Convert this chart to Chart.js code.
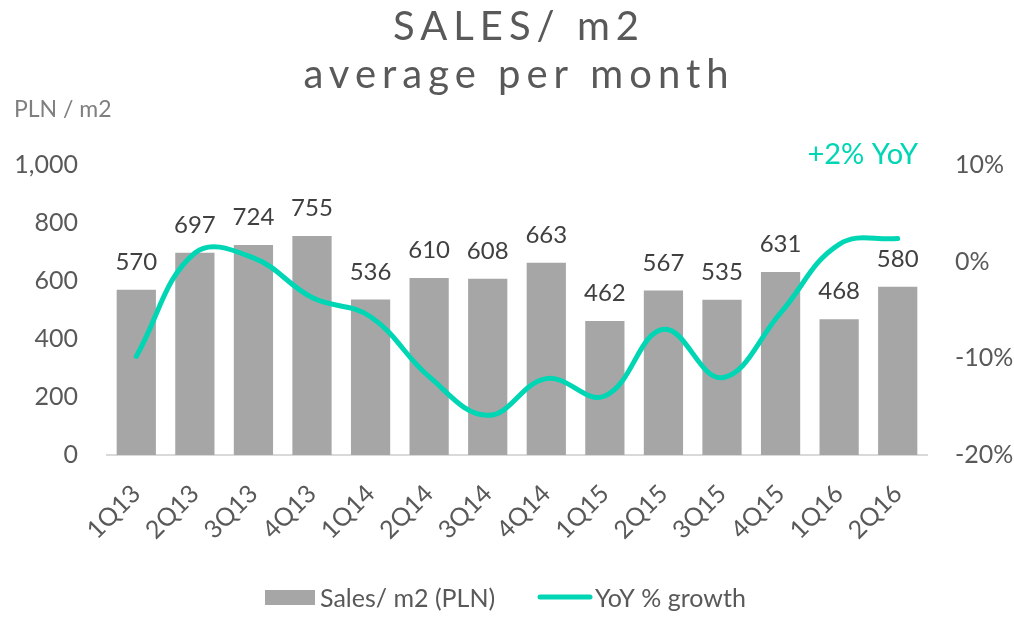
<!DOCTYPE html>
<html>
<head>
<meta charset="utf-8">
<script src="https://cdn.jsdelivr.net/npm/chart.js@4"></script>
<style>
  html, body { margin: 0; padding: 0; background: #fff; }
  #wrap { width: 1014px; height: 621px; }
</style>
</head>
<body>
<div id="wrap"><canvas id="myChart" width="1014" height="621"></canvas></div>
<script>
var quarters = ['1Q13','2Q13','3Q13','4Q13','1Q14','2Q14','3Q14','4Q14','1Q15','2Q15','3Q15','4Q15','1Q16','2Q16'];
var salesPerM2 = [570, 697, 724, 755, 536, 610, 608, 663, 462, 567, 535, 631, 468, 580];
var yoyGrowth = [-9.8, 0.9, 0.4, -3.7, -5.7, -11.9, -15.9, -12.1, -13.9, -7.0, -12.0, -5.3, 1.8, 2.4];
var titleLines = ['SALES/ m2', 'average per month'];
var unitLabel = 'PLN / m2';
var yoyNote = '+2% YoY';

var gray = '#a6a6a6';
var teal = '#00d6b4';
var fontName = 'Lato';

// title, unit label, note, value labels and legend
var extras = {
    id: 'extras',
    afterDraw: function(chart){
        var ctx = chart.ctx;
        ctx.save();
        ctx.fillStyle = '#595959';
        ctx.textAlign = 'center';
        ctx.textBaseline = 'alphabetic';
        ctx.font = '40px ' + fontName;
        ctx.letterSpacing = '6px';
        ctx.fillText(titleLines[0], 519, 40);
        ctx.fillText(titleLines[1], 519, 88);
        ctx.letterSpacing = '0px';

        ctx.textAlign = 'left';
        ctx.fillStyle = '#7f7f7f';
        ctx.font = '23px ' + fontName;
        ctx.fillText(unitLabel, 14, 117);

        ctx.textAlign = 'right';
        ctx.fillStyle = teal;
        ctx.font = '29px ' + fontName;
        ctx.fillText(yoyNote, 918, 164);

        ctx.textAlign = 'center';
        ctx.fillStyle = '#404040';
        ctx.font = '24px ' + fontName;
        var meta = chart.getDatasetMeta(0);
        meta.data.forEach(function(bar, i){
            ctx.fillText(salesPerM2[i], bar.x, bar.y - 20);
        });

        // legend
        var ds = chart.data.datasets;
        ctx.textAlign = 'left';
        ctx.fillStyle = ds[0].backgroundColor;
        ctx.fillRect(265, 590, 50, 15);
        ctx.fillStyle = '#595959';
        ctx.font = '25px ' + fontName;
        ctx.fillText(ds[0].label, 320, 607);
        ctx.strokeStyle = ds[1].borderColor;
        ctx.lineWidth = 5;
        ctx.lineCap = 'round';
        ctx.beginPath();
        ctx.moveTo(540, 597);
        ctx.lineTo(590, 597);
        ctx.stroke();
        ctx.fillText(ds[1].label, 595, 607);
        ctx.restore();
    }
};

var ctx = document.getElementById('myChart');
var myChart = new Chart(ctx, {
    type: 'bar',
    data: {
        labels: quarters,
        datasets: [{
            type: 'bar',
            label: 'Sales/ m2 (PLN)',
            data: salesPerM2,
            backgroundColor: gray,
            borderWidth: 0,
            yAxisID: 'y',
            order: 1,
            categoryPercentage: 1,
            barPercentage: 0.67
        },{
            type: 'line',
            label: 'YoY % growth',
            data: yoyGrowth,
            borderColor: teal,
            backgroundColor: teal,
            borderWidth: 5,
            borderCapStyle: 'round',
            pointRadius: 0,
            tension: 0.4,
            clip: false,
            yAxisID: 'y2',
            order: 0
        }]
    },
    options: {
        responsive: false,
        animation: false,
        layout: {
            padding: { top: 165, left: 0, right: 0, bottom: 0 }
        },
        scales: {
            x: {
                grid: { display: false },
                border: { display: true, color: '#d9d9d9', width: 2 },
                ticks: {
                    color: '#595959',
                    font: { family: fontName, size: 25 },
                    minRotation: 45,
                    maxRotation: 45,
                    padding: 16
                },
                afterFit: function(scale){ scale.height = 166; }
            },
            y: {
                position: 'left',
                min: 0,
                max: 1000,
                grid: { display: false, drawTicks: false },
                border: { display: false },
                ticks: {
                    stepSize: 200,
                    color: '#595959',
                    padding: 29,
                    font: { family: fontName, size: 25 }
                },
                afterFit: function(scale){ scale.width = 107; }
            },
            y2: {
                position: 'right',
                min: -20,
                max: 10,
                grid: { display: false, drawTicks: false },
                border: { display: false },
                ticks: {
                    stepSize: 10,
                    color: '#595959',
                    padding: 28,
                    font: { family: fontName, size: 25 },
                    callback: function(v){ return v + '%'; }
                },
                afterFit: function(scale){ scale.width = 87; }
            }
        },
        plugins: {
            title: { display: false },
            tooltip: { enabled: false },
            legend: { display: false }
        }
    },
    plugins: [extras]
});
</script>
</body>
</html>
